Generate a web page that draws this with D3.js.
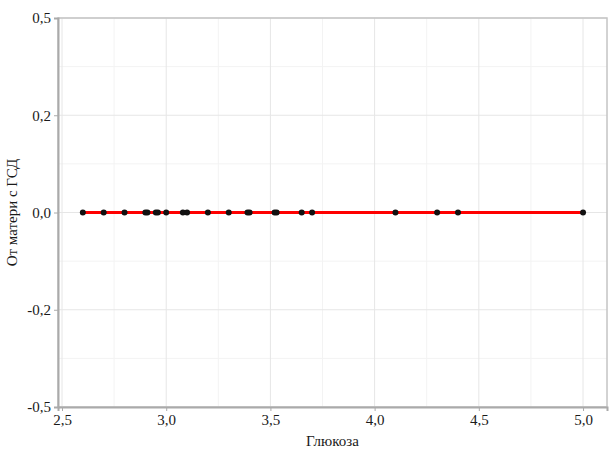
<!DOCTYPE html>
<html>
<head>
<meta charset="utf-8">
<script src="https://cdn.jsdelivr.net/npm/d3@7"></script>
<style>
  body { margin: 0; background: #fff; }
</style>
</head>
<body>
<div id="chart"></div>
<script>
// data
var glucose = [2.6, 2.7, 2.8, 2.9, 2.91, 2.95, 2.96, 3.0, 3.08, 3.1, 3.2, 3.3, 3.39, 3.4, 3.52, 3.53, 3.65, 3.7, 4.1, 4.3, 4.4, 5.0];
var fromMother = [0, 0, 0, 0, 0, 0, 0, 0, 0, 0, 0, 0, 0, 0, 0, 0, 0, 0, 0, 0, 0, 0];
var xTicks = [2.5, 3.0, 3.5, 4.0, 4.5, 5.0];
var xMinor = [2.75, 3.25, 3.75, 4.25, 4.75];
var yTicks = [-0.4, -0.2, 0, 0.2, 0.4];
var yTickLabels = ["-0,5", "-0,2", "0,0", "0,2", "0,5"];
var yMinor = [-0.3, -0.1, 0.1, 0.3];
var fitX = [2.6, 5.0];
var fitY = [0, 0];

var FONT = "'Liberation Serif', 'Times New Roman', serif";

var w = 614, h = 461;
var margin = { top: 18, right: 7, bottom: 54, left: 58 };
var width = w - margin.left - margin.right;
var height = h - margin.top - margin.bottom;

var svg = d3.select("#chart").append("svg")
    .attr("width", w)
    .attr("height", h)
    .append("g")
    .attr("transform", `translate(${margin.left},${margin.top})`);

var x = d3.scaleLinear().domain([2.4808, 5.115]).range([0, width]);
var y = d3.scaleLinear().domain([-0.4, 0.4]).range([height, 0]);

// --- grid ---
svg.append("g").selectAll("line.vminor")
    .data(xMinor).enter().append("line")
    .attr("x1", d => x(d)).attr("x2", d => x(d))
    .attr("y1", 0).attr("y2", height)
    .attr("stroke", "#f3f3f3").attr("stroke-width", 1);
svg.append("g").selectAll("line.hminor")
    .data(yMinor).enter().append("line")
    .attr("y1", d => y(d)).attr("y2", d => y(d))
    .attr("x1", 0).attr("x2", width)
    .attr("stroke", "#f3f3f3").attr("stroke-width", 1);
svg.append("g").selectAll("line.vmajor")
    .data(xTicks).enter().append("line")
    .attr("x1", d => x(d)).attr("x2", d => x(d))
    .attr("y1", 0).attr("y2", height)
    .attr("stroke", "#e6e6e6").attr("stroke-width", 1);
svg.append("g").selectAll("line.hmajor")
    .data(yTicks).enter().append("line")
    .attr("y1", d => y(d)).attr("y2", d => y(d))
    .attr("x1", 0).attr("x2", width)
    .attr("stroke", "#e6e6e6").attr("stroke-width", 1);

// frame
svg.append("rect")
    .attr("width", width).attr("height", height)
    .attr("fill", "none").attr("stroke", "#c4c4c4").attr("stroke-width", 1.5);

// --- axes ---
var xAxis = svg.append("g")
    .attr("transform", `translate(0,${height})`)
    .call(d3.axisBottom(x).tickValues(xTicks).tickSize(4).tickPadding(3)
        .tickFormat(d => d3.format(".1f")(d).replace(".", ",")));
var yAxis = svg.append("g")
    .call(d3.axisLeft(y).tickValues(yTicks).tickSize(4).tickPadding(3)
        .tickFormat((d, i) => yTickLabels[i]));

[xAxis, yAxis].forEach(a => {
    a.attr("font-family", FONT).attr("font-size", 15);
    a.select(".domain").attr("stroke", "#aaa").attr("stroke-width", 2);
    a.selectAll(".tick line").attr("stroke", "#aaa");
    a.selectAll(".tick text").attr("fill", "#1a1a1a");
});

svg.append("text")
    .attr("transform", "rotate(-90)")
    .attr("x", -height / 2)
    .attr("y", -margin.left + 17)
    .attr("text-anchor", "middle")
    .attr("font-family", FONT)
    .attr("font-size", 15)
    .attr("fill", "#1a1a1a")
    .text("От матери с ГСД");

svg.append("text")
    .attr("x", width / 2)
    .attr("y", height + 39)
    .attr("text-anchor", "middle")
    .attr("font-family", FONT)
    .attr("font-size", 15)
    .attr("fill", "#1a1a1a")
    .text("Глюкоза");

// --- fit line ---
var line = d3.line().x((d, i) => x(fitX[i])).y((d, i) => y(fitY[i]));
svg.append("path")
    .datum(fitX)
    .attr("d", line)
    .attr("fill", "none")
    .attr("stroke", "#ff0000")
    .attr("stroke-width", 3);

// --- points ---
svg.append("g").selectAll("circle")
    .data(glucose).enter().append("circle")
    .attr("cx", d => x(d))
    .attr("cy", (d, i) => y(fromMother[i]))
    .attr("r", 3)
    .attr("fill", "#111");
</script>
</body>
</html>
